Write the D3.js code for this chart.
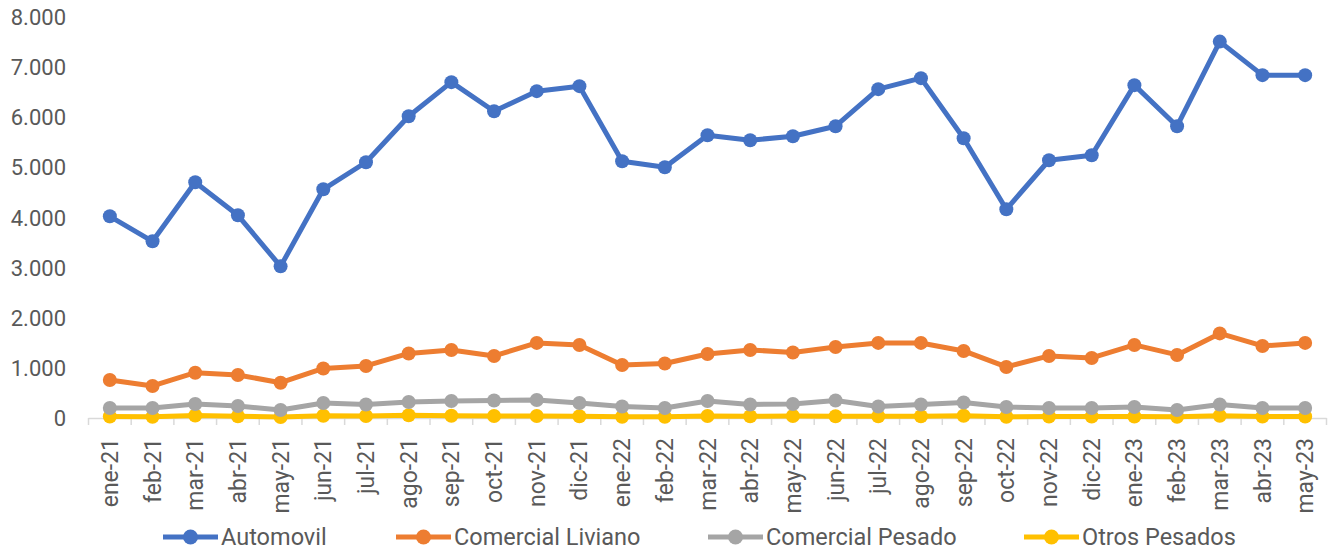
<!DOCTYPE html>
<html><head><meta charset="utf-8">
<script src="https://cdn.jsdelivr.net/npm/d3@7"></script>
<style>body{margin:0;background:#fff}svg{display:block}text{font-family:Roboto,"Noto Sans",sans-serif;fill:#595959}</style>
</head><body><svg id="c" width="1330" height="552"></svg>
<script>
const months = ["ene-21","feb-21","mar-21","abr-21","may-21","jun-21","jul-21","ago-21","sep-21","oct-21","nov-21","dic-21","ene-22","feb-22","mar-22","abr-22","may-22","jun-22","jul-22","ago-22","sep-22","oct-22","nov-22","dic-22","ene-23","feb-23","mar-23","abr-23","may-23"];
const automovil = [4030,3530,4710,4050,3030,4570,5110,6030,6710,6130,6530,6630,5130,5010,5650,5550,5630,5830,6570,6790,5590,4170,5150,5250,6650,5830,7520,6850,6850];
const comercialLiviano = [760,640,905,860,705,990,1040,1290,1360,1240,1500,1460,1060,1090,1280,1360,1310,1420,1500,1500,1340,1020,1240,1200,1460,1260,1690,1440,1500];
const comercialPesado = [200,200,280,240,160,300,270,320,340,350,360,300,230,200,340,270,280,350,230,270,310,220,200,200,220,160,270,200,200];
const otrosPesados = [30,25,50,35,20,45,40,55,45,40,40,35,25,25,40,35,40,35,35,35,45,25,30,30,30,25,45,30,30];
const seriesNames = ["Automovil","Comercial Liviano","Comercial Pesado","Otros Pesados"];
const seriesColors = ["#4472C4","#ED7D31","#A5A5A5","#FFC000"];
const yTicks = [0,1000,2000,3000,4000,5000,6000,7000,8000];

const svg = d3.select("#c");
const x = d3.scaleBand().domain(months).range([88.5, 1326.5]);
const y = d3.scaleLinear().domain([0, 8000]).range([418, 17.6]);
const fmt = v => d3.format(",")(v).replace(/,/g, ".");

// y labels
svg.append("g").selectAll("text").data(yTicks).join("text")
  .attr("x", 66).attr("y", d => y(d)).attr("dy", "0.35em")
  .attr("text-anchor", "end").style("font-size", "22px").text(fmt);

// x axis line + ticks
const ax = svg.append("g");
ax.append("line").attr("x1", x.range()[0]).attr("x2", x.range()[1]).attr("y1", 418.5).attr("y2", 418.5)
  .attr("stroke", "#d9d9d9").attr("stroke-width", 1.5);
const bounds = months.map(m => x(m)).concat([x.range()[1]]);
ax.selectAll("line.t").data(bounds).join("line").attr("class", "t")
  .attr("x1", d => d).attr("x2", d => d).attr("y1", 418).attr("y2", 425)
  .attr("stroke", "#d9d9d9").attr("stroke-width", 1.5);
ax.selectAll("text").data(months).join("text")
  .attr("transform", d => `translate(${x(d) + x.bandwidth() / 2},438) rotate(-90)`)
  .attr("dy", "0.35em").attr("text-anchor", "end").style("font-size", "23px").text(d => d);

// series
const data = [automovil, comercialLiviano, comercialPesado, otrosPesados];
const cx = i => x(months[i]) + x.bandwidth() / 2;
const line = d3.line().x((d, i) => cx(i)).y(d => y(d));
[3,2,1,0].forEach(s => {
  const g = svg.append("g");
  g.append("path").attr("d", line(data[s])).attr("fill", "none")
    .attr("stroke", seriesColors[s]).attr("stroke-width", 5).attr("stroke-linejoin", "round");
  g.selectAll("circle").data(data[s]).join("circle")
    .attr("cx", (d, i) => cx(i)).attr("cy", d => y(d)).attr("r", 7).attr("fill", seriesColors[s]);
});

// legend
const legX = [163, 396, 708, 1024];
const lg = svg.append("g");
seriesNames.forEach((n, i) => {
  const g = lg.append("g").attr("transform", `translate(${legX[i]},537)`);
  g.append("line").attr("x1", 0).attr("x2", 55).attr("stroke", seriesColors[i]).attr("stroke-width", 5);
  g.append("circle").attr("cx", 27.5).attr("r", 7.5).attr("fill", seriesColors[i]);
  g.append("text").attr("x", 58).attr("dy", "0.35em").style("font-size", "23.5px").text(n);
});
</script></body></html>
